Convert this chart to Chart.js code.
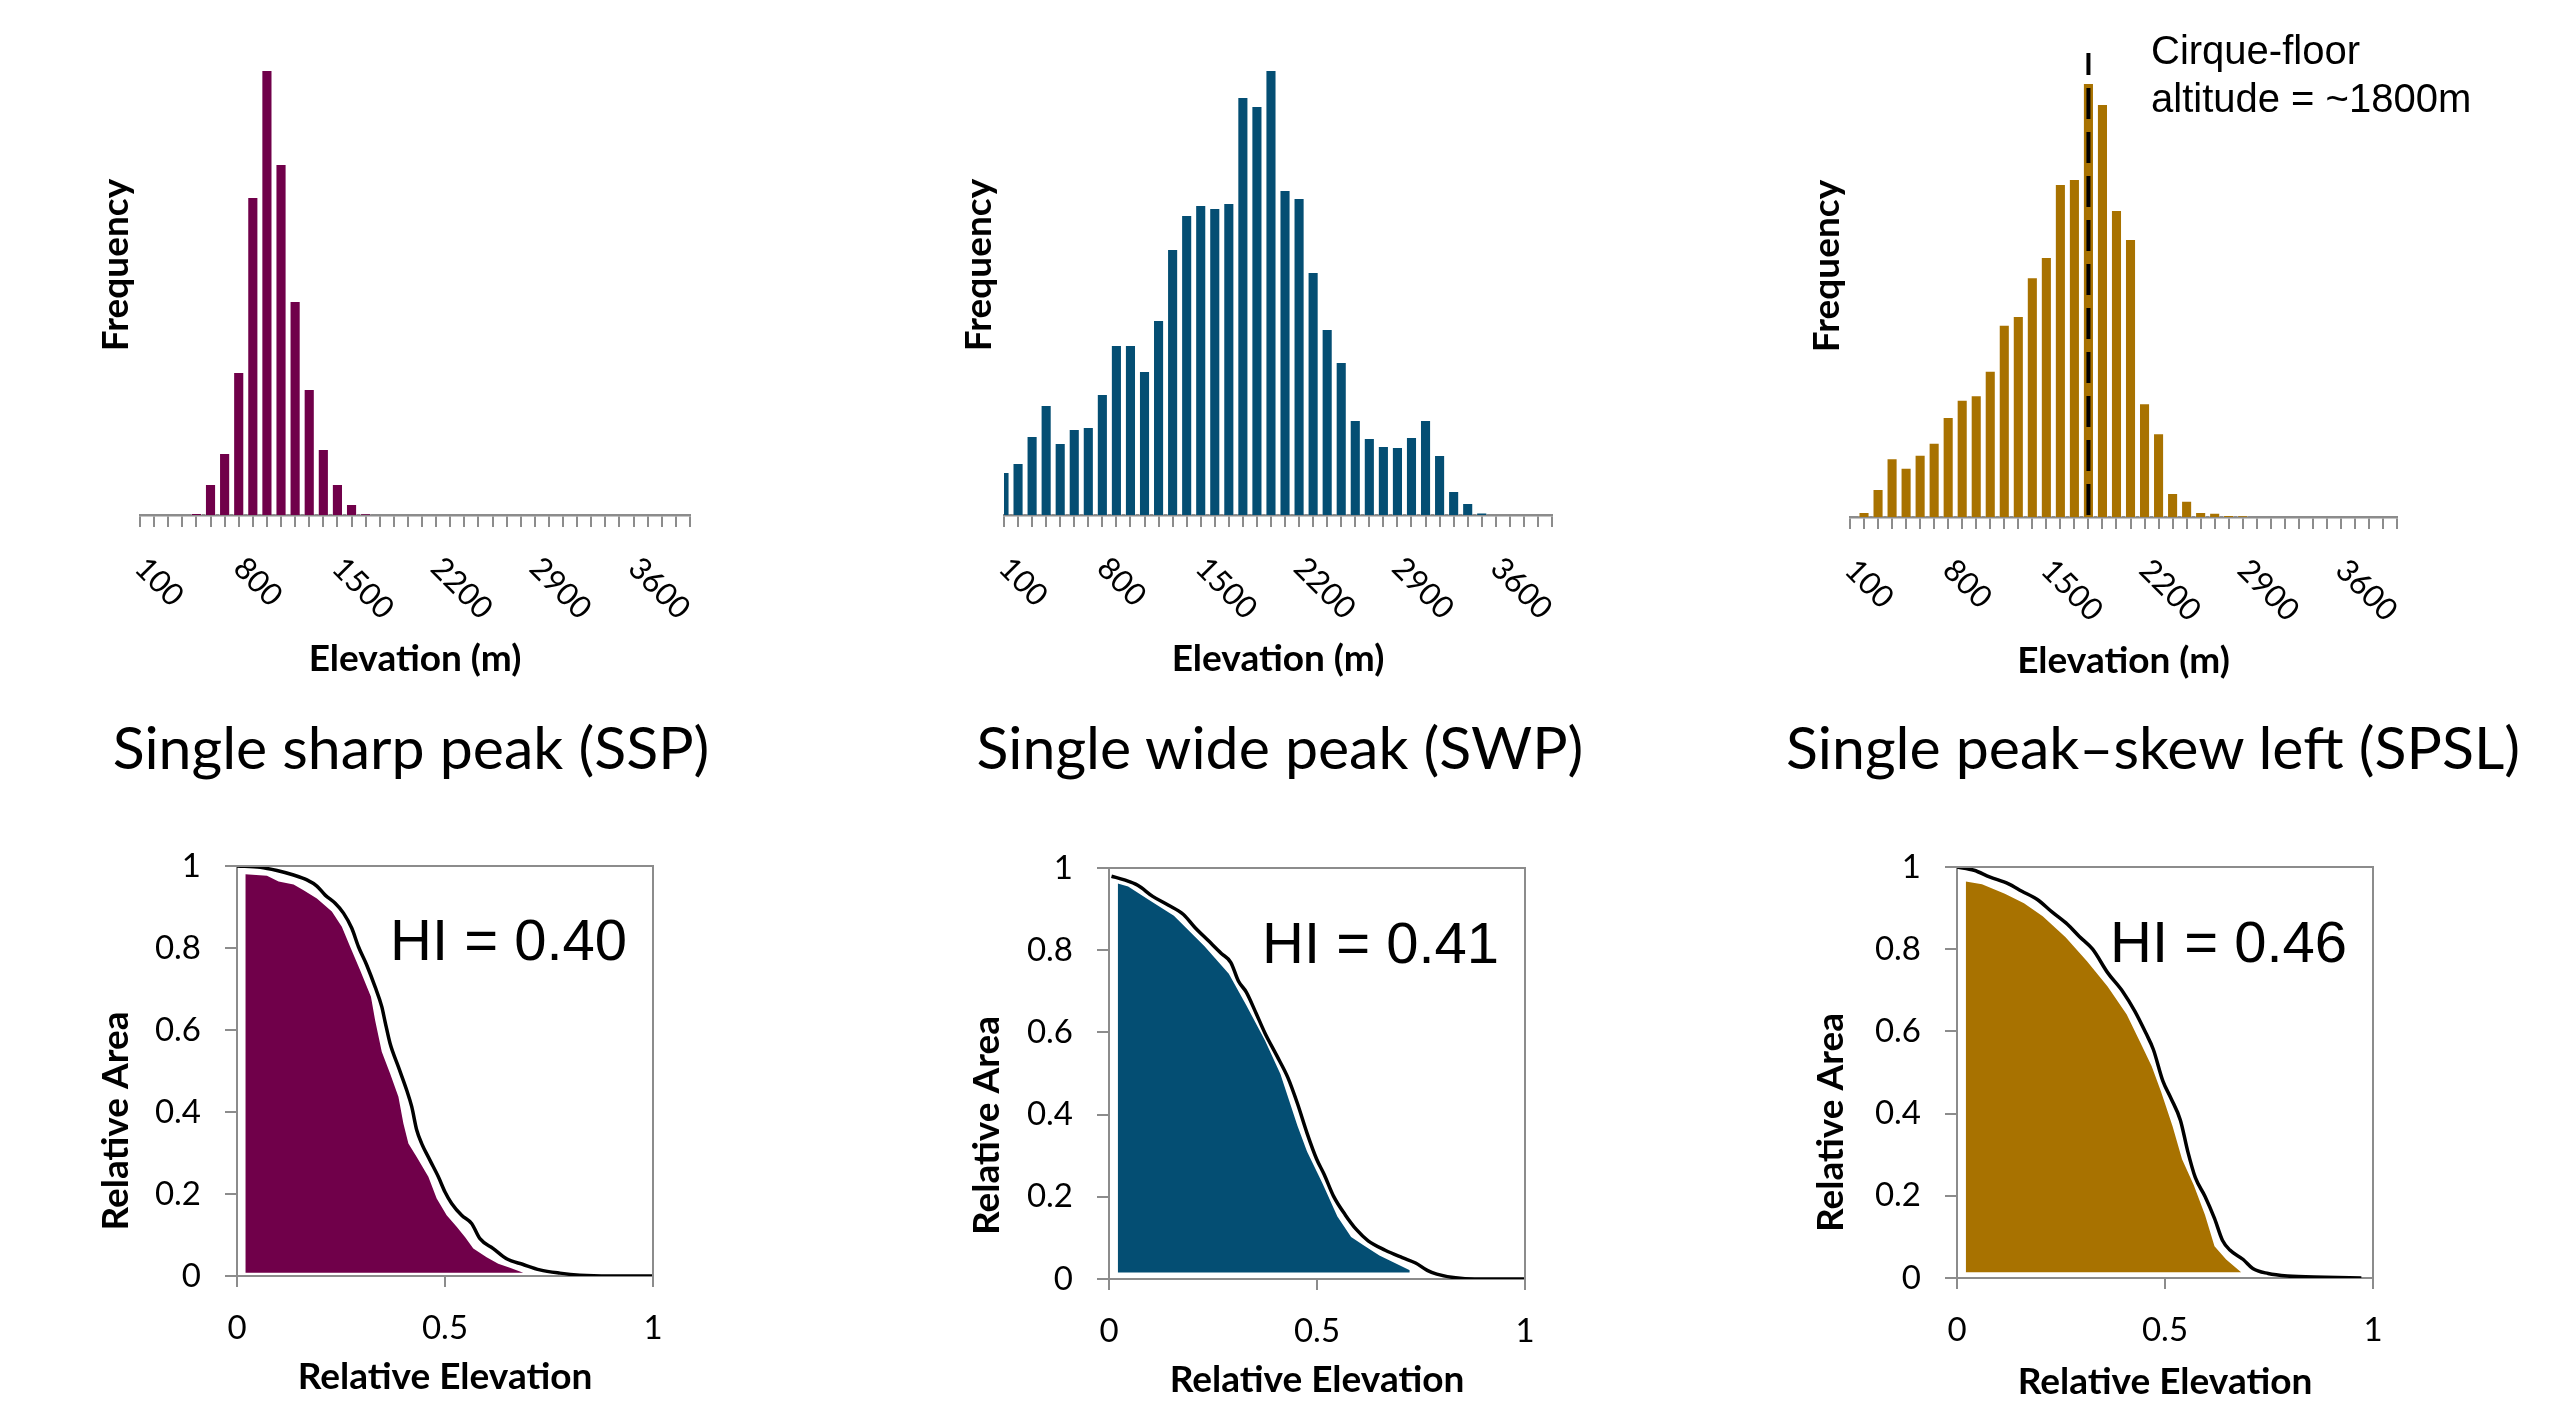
<!DOCTYPE html>
<html>
<head>
<meta charset="utf-8">
<title>Elevation frequency and hypsometry</title>
<script src="https://cdn.jsdelivr.net/npm/chart.js@4.4.0/dist/chart.umd.min.js"></script>
<style>
  html, body { margin: 0; padding: 0; background: #fff; }
  #page { position: relative; width: 2571px; height: 1417px; overflow: hidden; background: #fff; }
  #page canvas { position: absolute; }
  .panel-title { position: absolute; top: 717px; width: 1000px; text-align: center; font-family: Lato, sans-serif; font-size: 59px; line-height: 59px; color: #000; white-space: nowrap; }
  .note { position: absolute; left: 2151px; top: 27px; font-family: "Liberation Sans", Arial, sans-serif; font-size: 40px; line-height: 47.7px; color: #000; white-space: nowrap; }
</style>
</head>
<body>
<div id="page">
  <canvas id="hist-ssp" width="611" height="681" style="left:94px;top:0"></canvas>
  <canvas id="hist-swp" width="610" height="681" style="left:957px;top:0"></canvas>
  <canvas id="hist-spsl" width="607" height="683" style="left:1805px;top:0"></canvas>

  <div class="panel-title" style="left:-89px">Single sharp peak (SSP)</div>
  <div class="panel-title" style="left:780px">Single wide peak (SWP)</div>
  <div class="panel-title" style="left:1653px">Single peak–skew left (SPSL)</div>
  <div class="note">Cirque-floor<br>altitude = ~1800m</div>

  <canvas id="hyp-ssp" width="609" height="596" style="left:90px;top:821px"></canvas>
  <canvas id="hyp-swp" width="611" height="594" style="left:960px;top:823px"></canvas>
  <canvas id="hyp-spsl" width="614" height="595" style="left:1805px;top:822px"></canvas>
</div>

<script>
// elevation bins (m)
const elevBins = [100, 200, 300, 400, 500, 600, 700, 800, 900, 1000,
  1100, 1200, 1300, 1400, 1500, 1600, 1700, 1800, 1900, 2000,
  2100, 2200, 2300, 2400, 2500, 2600, 2700, 2800, 2900, 3000,
  3100, 3200, 3300, 3400, 3500, 3600, 3700, 3800, 3900, 4000];
const elevTickLabels = [100, 800, 1500, 2200, 2900, 3600];
const cirqueFloor = 1800;

// frequencies (relative)
const freqSSP = [0, 0, 0, 0, 2, 31, 62, 143, 318, 445,
  351, 214, 126, 66, 31, 11, 1.5, 0, 0, 0,
  0, 0, 0, 0, 0, 0, 0, 0, 0, 0,
  0, 0, 0, 0, 0, 0, 0, 0, 0, 0];
const freqSWP = [43, 52, 79, 110, 72, 86, 88, 121, 170, 170,
  144, 195, 266, 300, 310, 307, 312, 418, 409, 445,
  325, 317, 243, 186, 153, 95, 77, 69, 68, 78,
  95, 60, 24, 12, 2.5, 0, 0, 0, 0, 0];
const freqSPSL = [0, 5, 28, 58.7, 49.3, 62.3, 74.3, 100, 117.3, 121.7,
  146.3, 192.3, 201, 239.7, 260, 333, 338, 434, 413, 307,
  278, 113.7, 83.7, 24, 16.3, 5, 4.3, 2, 1.3, 0,
  0, 0, 0, 0, 0, 0, 0, 0, 0, 0];

// hypsometric curves: relative elevation (x) vs relative area (y)
const sspCurveX = [0, 0.056, 0.096, 0.136, 0.168, 0.192, 0.212, 0.236, 0.256, 0.276,
  0.292, 0.312, 0.332, 0.348, 0.356, 0.368, 0.388, 0.408, 0.42, 0.432,
  0.444, 0.464, 0.484, 0.5, 0.516, 0.54, 0.564, 0.584, 0.616, 0.648,
  0.688, 0.728, 0.776, 0.824, 0.896, 1];
const sspCurveY = [1, 0.997, 0.989, 0.978, 0.966, 0.951, 0.929, 0.909, 0.885, 0.848,
  0.803, 0.758, 0.705, 0.657, 0.62, 0.567, 0.51, 0.453, 0.413, 0.356,
  0.323, 0.282, 0.242, 0.205, 0.177, 0.148, 0.128, 0.091, 0.067, 0.042,
  0.028, 0.015, 0.007, 0.002, 0, 0];
const sspFillX = [0.02, 0.072, 0.1, 0.136, 0.16, 0.192, 0.228, 0.252, 0.272, 0.296,
  0.322, 0.332, 0.348, 0.368, 0.388, 0.4, 0.412, 0.432, 0.46, 0.48,
  0.504, 0.528, 0.548, 0.568, 0.6, 0.628, 0.656, 0.688];
const sspFillY = [0.98, 0.976, 0.962, 0.955, 0.941, 0.921, 0.889, 0.852, 0.803, 0.746,
  0.681, 0.624, 0.547, 0.494, 0.437, 0.372, 0.323, 0.29, 0.242, 0.189,
  0.148, 0.12, 0.095, 0.067, 0.046, 0.03, 0.02, 0.008];

const swpCurveX = [0.006, 0.037, 0.069, 0.105, 0.142, 0.179, 0.206, 0.238, 0.27, 0.293,
  0.311, 0.33, 0.353, 0.375, 0.403, 0.43, 0.453, 0.476, 0.499, 0.517,
  0.54, 0.568, 0.595, 0.623, 0.664, 0.705, 0.737, 0.765, 0.788, 0.833,
  0.879, 1];
const swpCurveY = [0.98, 0.971, 0.958, 0.931, 0.91, 0.887, 0.856, 0.824, 0.792, 0.77,
  0.725, 0.698, 0.648, 0.598, 0.544, 0.49, 0.427, 0.355, 0.292, 0.255,
  0.201, 0.156, 0.12, 0.093, 0.07, 0.052, 0.039, 0.021, 0.012, 0.003,
  0, 0];
const swpFillX = [0.021, 0.046, 0.101, 0.156, 0.229, 0.288, 0.33, 0.375, 0.412, 0.453,
  0.476, 0.513, 0.549, 0.582, 0.609, 0.65, 0.723];
const swpFillY = [0.962, 0.955, 0.919, 0.884, 0.81, 0.743, 0.666, 0.58, 0.499, 0.373,
  0.31, 0.233, 0.152, 0.102, 0.084, 0.057, 0.021];

const spslCurveX = [0, 0.041, 0.078, 0.124, 0.156, 0.193, 0.229, 0.266, 0.294, 0.326,
  0.362, 0.399, 0.427, 0.454, 0.472, 0.495, 0.514, 0.537, 0.555, 0.573,
  0.596, 0.619, 0.638, 0.656, 0.688, 0.711, 0.748, 0.794, 0.885, 0.972];
const spslCurveY = [1, 0.992, 0.976, 0.959, 0.941, 0.921, 0.89, 0.86, 0.831, 0.8,
  0.743, 0.696, 0.65, 0.596, 0.556, 0.479, 0.438, 0.384, 0.307, 0.244,
  0.199, 0.145, 0.092, 0.068, 0.045, 0.023, 0.011, 0.005, 0.002, 0];
const spslFillX = [0.021, 0.06, 0.115, 0.161, 0.206, 0.261, 0.312, 0.362, 0.408, 0.445,
  0.468, 0.491, 0.518, 0.541, 0.569, 0.596, 0.619, 0.647, 0.683];
const spslFillY = [0.965, 0.958, 0.935, 0.912, 0.88, 0.829, 0.771, 0.709, 0.641, 0.564,
  0.515, 0.452, 0.37, 0.289, 0.226, 0.154, 0.077, 0.045, 0.014];

const GRAY = '#8c8c8c';
const LATO = 'Lato, "Open Sans", sans-serif';
const MAROON = '#70004a';
const BLUE = '#044e73';
const GOLD = '#a87200';

// rotated elevation labels (Excel style, reading down to the right)
const elevLabels = {
  id: 'elevLabels',
  afterDraw(chart) {
    const x = chart.scales.x;
    const ctx = chart.ctx;
    ctx.save();
    ctx.font = '31px ' + LATO;
    ctx.fillStyle = '#000';
    ctx.textAlign = 'left';
    ctx.textBaseline = 'middle';
    elevTickLabels.forEach(v => {
      const px = x.getPixelForValue(elevBins.indexOf(v));
      ctx.save();
      ctx.translate(px, x.top + 48);
      ctx.rotate(Math.PI / 4);
      ctx.fillText(String(v), 0, 0);
      ctx.restore();
    });
    ctx.restore();
  }
};

const cirqueLine = {
  id: 'cirqueLine',
  afterDatasetsDraw(chart, args, opts) {
    const {x, y} = chart.scales;
    const ctx = chart.ctx;
    const px = x.getPixelForValue(elevBins.indexOf(opts.at));
    ctx.save();
    ctx.strokeStyle = '#000';
    ctx.lineWidth = 4;
    ctx.setLineDash([31, 13]);
    ctx.beginPath();
    ctx.moveTo(px, y.getPixelForValue(0) - 2);
    ctx.lineTo(px, y.getPixelForValue(opts.top));
    ctx.stroke();
    ctx.restore();
  }
};

const hypsoDecor = {
  id: 'hypsoDecor',
  afterDraw(chart, args, o) {
    const {ctx, chartArea: a} = chart;
    const {x, y} = chart.scales;
    ctx.save();
    ctx.strokeStyle = GRAY;
    ctx.lineWidth = 2;
    ctx.beginPath();
    ctx.moveTo(a.left, a.top);
    ctx.lineTo(a.right, a.top);
    ctx.lineTo(a.right, a.bottom);
    ctx.stroke();

    ctx.fillStyle = '#000';
    ctx.font = '58px "Liberation Sans", Arial, sans-serif';
    ctx.textAlign = 'left';
    ctx.textBaseline = 'alphabetic';
    ctx.fillText(o.hi, x.getPixelForValue(0.368), y.getPixelForValue(0.77));

    ctx.translate(a.left - o.titleDx, (a.top + a.bottom) / 2 + o.titleDy);
    ctx.rotate(-Math.PI / 2);
    ctx.font = 'bold 37px ' + LATO;
    ctx.textAlign = 'center';
    ctx.textBaseline = 'middle';
    ctx.fillText('Relative Area', 0, 0);
    ctx.restore();
  }
};

function makeHistogram(id, freq, color, yWidth, yMax, extraPlugins, extraOpts) {
  return new Chart(document.getElementById(id), {
    type: 'bar',
    data: {
      labels: elevBins,
      datasets: [{
        data: freq,
        backgroundColor: color,
        borderColor: 'rgba(255,255,255,0.45)',
        borderWidth: 1,
        borderSkipped: 'bottom',
        barPercentage: 0.79,
        categoryPercentage: 1,
        clip: 0
      }]
    },
    options: {
      responsive: false,
      animation: false,
      events: [],
      layout: {padding: {top: 15, right: 15, left: 0, bottom: 0}},
      plugins: Object.assign({legend: {display: false}, tooltip: {enabled: false}}, extraOpts),
      scales: {
        x: {
          offset: false,
          grid: {offset: false, drawOnChartArea: false, drawTicks: true, tickLength: 12, color: GRAY, lineWidth: 2},
          border: {display: true, color: GRAY, width: 2.5},
          ticks: {display: false, autoSkip: false},
          title: {display: true, text: 'Elevation (m)', color: '#000', padding: 0,
            font: {family: LATO, size: 37, weight: 'bold', lineHeight: '44px'}},
          afterFit: s => { s.height = 166; }
        },
        y: {
          min: 0,
          max: yMax,
          grid: {display: false},
          border: {display: false},
          ticks: {display: false},
          title: {display: true, text: 'Frequency', color: '#000', padding: 0,
            font: {family: LATO, size: 37, weight: 'bold', lineHeight: '44px'}},
          afterFit: s => { s.width = yWidth; }
        }
      }
    },
    plugins: [elevLabels].concat(extraPlugins)
  });
}

const shortNum = v => String(Math.round(v * 10) / 10);

function makeHypso(id, cx, cy, fx, fy, fillBase, color, hi, geo) {
  const pts = (xs, ys) => xs.map((v, i) => ({x: v, y: ys[i]}));
  const tickFont = {family: LATO, size: 33};
  return new Chart(document.getElementById(id), {
    type: 'scatter',
    data: {
      datasets: [{
        data: pts(cx, cy),
        showLine: true,
        borderColor: '#000',
        borderWidth: 3.5,
        pointRadius: 0,
        cubicInterpolationMode: 'monotone',
        fill: false
      }, {
        data: pts(fx, fy),
        showLine: true,
        borderColor: 'rgba(0,0,0,0)',
        borderWidth: 0,
        backgroundColor: color,
        pointRadius: 0,
        fill: {value: fillBase}
      }]
    },
    options: {
      responsive: false,
      animation: false,
      events: [],
      layout: {padding: {top: 45, right: 46, left: 0, bottom: 0}},
      plugins: {
        legend: {display: false},
        tooltip: {enabled: false},
        hypsoDecor: {hi: hi, titleDx: geo.titleDx, titleDy: geo.titleDy}
      },
      scales: {
        x: {
          type: 'linear',
          min: 0,
          max: 1,
          ticks: {stepSize: 0.5, padding: 22, color: '#000', font: tickFont, callback: shortNum},
          grid: {drawOnChartArea: false, tickLength: 11, color: GRAY, lineWidth: 2},
          border: {color: GRAY, width: 2},
          title: {display: true, text: 'Relative Elevation', color: '#000',
            padding: {top: 0, bottom: geo.titleGap},
            font: {family: LATO, size: 37, weight: 'bold', lineHeight: '44px'}},
          afterFit: s => { s.height = geo.xHeight; }
        },
        y: {
          min: 0,
          max: 1,
          ticks: {stepSize: 0.2, padding: 24, color: '#000', font: tickFont, callback: shortNum},
          grid: {drawOnChartArea: false, tickLength: 12, color: GRAY, lineWidth: 2},
          border: {color: GRAY, width: 2},
          afterFit: s => { s.width = geo.yWidth; }
        }
      }
    },
    plugins: [hypsoDecor]
  });
}

makeHistogram('hist-ssp', freqSSP, MAROON, 46, 500, [], {});
makeHistogram('hist-swp', freqSWP, BLUE, 47, 500, [], {});
makeHistogram('hist-spsl', freqSPSL, GOLD, 45, 502, [cirqueLine], {cirqueLine: {at: cirqueFloor, top: 464}});

makeHypso('hyp-ssp', sspCurveX, sspCurveY, sspFillX, sspFillY, 0.008, MAROON, 'HI = 0.40',
  {yWidth: 147, xHeight: 141, titleGap: 18, titleDx: 121, titleDy: 50});
makeHypso('hyp-swp', swpCurveX, swpCurveY, swpFillX, swpFillY, 0.016, BLUE, 'HI = 0.41',
  {yWidth: 149, xHeight: 138, titleGap: 15, titleDx: 122, titleDy: 52});
makeHypso('hyp-spsl', spslCurveX, spslCurveY, spslFillX, spslFillY, 0.014, GOLD, 'HI = 0.46',
  {yWidth: 152, xHeight: 139, titleGap: 13, titleDx: 126, titleDy: 50});
</script>
</body>
</html>
